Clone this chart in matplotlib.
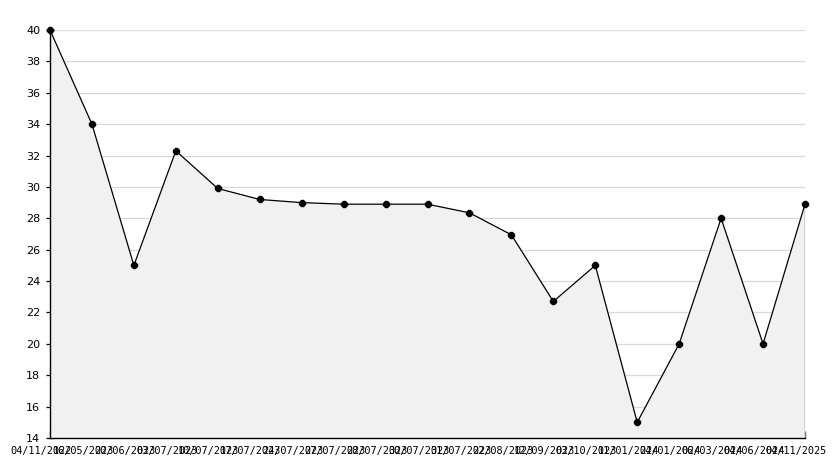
import matplotlib
matplotlib.use("Agg")
import matplotlib.pyplot as plt
from matplotlib.ticker import MultipleLocator
from matplotlib.transforms import ScaledTranslation

labels = ["04/11/2022", "16/05/2023", "20/06/2023", "03/07/2023", "10/07/2023",
          "17/07/2023", "24/07/2023", "27/07/2023", "28/07/2023", "30/07/2023",
          "31/07/2023", "22/08/2023", "12/09/2023", "03/10/2023", "11/01/2024",
          "24/01/2024", "06/03/2024", "04/06/2024", "04/11/2025"]
values = [40, 34, 25, 32.3, 29.9, 29.2, 29.0, 28.9, 28.9, 28.9,
          28.35, 26.95, 22.7, 25, 15, 20, 28, 20, 28.9]

W, H = 834, 468
fig = plt.figure(figsize=(W / 100, H / 100), dpi=100)
ax = fig.add_axes([50 / W, (H - 438) / H, (805 - 50) / W, (438 - 30) / H])

x = list(range(len(values)))
ax.fill_between(x, values, 14, color="#f1f1f1", linewidth=0, zorder=1)
ax.plot(x, values, color="black", linewidth=0.9, marker="8", markersize=5,
        markerfacecolor="black", markeredgecolor="black", zorder=5, clip_on=False)
ax.plot([x[-1], x[-1]], [14, values[-1]], color="black", linewidth=0.9, zorder=2)

ax.set_xlim(0, len(values) - 1)
ax.set_ylim(14, 40)
ax.yaxis.set_major_locator(MultipleLocator(2))
ax.yaxis.set_minor_locator(MultipleLocator(1))
ax.grid(axis="y", which="major", color="#d9d9d9", linewidth=0.9, zorder=0)
ax.set_axisbelow(True)

for s in ["top", "right"]:
    ax.spines[s].set_visible(False)
for s in ["left", "bottom"]:
    ax.spines[s].set_linewidth(1.0)
    ax.spines[s].set_zorder(4)

ax.set_xticks(x)
ax.set_xticklabels(labels, family="DejaVu Sans Mono", fontsize=7.4)
ax.tick_params(axis="x", direction="in", length=5, width=0.9, pad=6)
ax.tick_params(axis="y", which="major", direction="inout", length=6, width=0.9,
               pad=4, labelsize=8)
ax.tick_params(axis="y", which="minor", direction="in", length=3, width=0.9)
for t in ax.get_yticklabels():
    t.set_family("DejaVu Sans")
shift = ScaledTranslation(-9 / 100, 0, fig.dpi_scale_trans)
for t in ax.get_xticklabels():
    t.set_transform(t.get_transform() + shift)

fig.savefig("out.png", dpi=100)
